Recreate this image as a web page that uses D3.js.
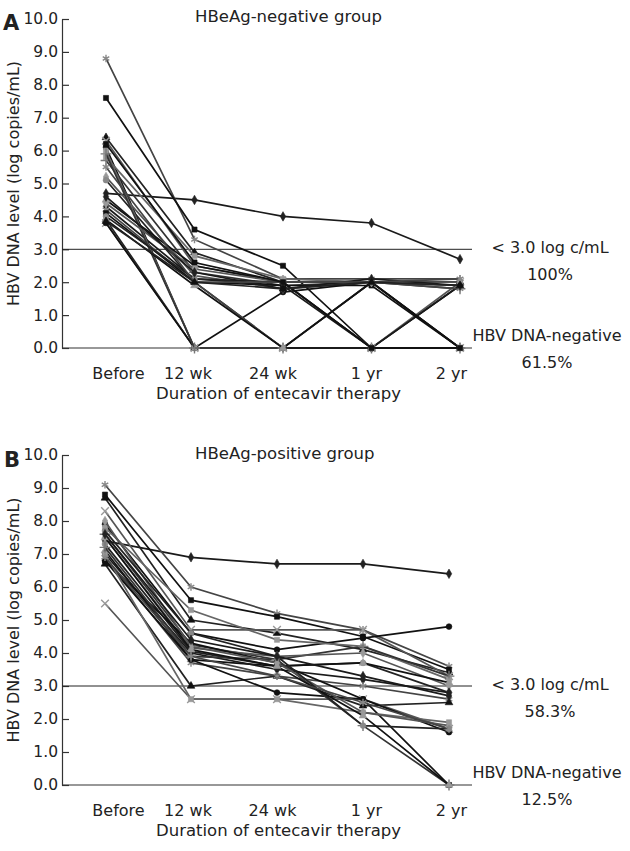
<!DOCTYPE html>
<html>
<head>
<meta charset="utf-8">
<script src="https://cdn.jsdelivr.net/npm/d3@7"></script>
<style>
  body { margin: 0; background: #fff; }
  svg { display: block; }
  text { font-family: "DejaVu Sans", Verdana, sans-serif; fill: #222; }
</style>
</head>
<body>
<svg id="chart" width="630" height="851"></svg>
<script>
// time points
const categories = ["Before", "12 wk", "24 wk", "1 yr", "2 yr"];
const yTicks = [0, 1, 2, 3, 4, 5, 6, 7, 8, 9, 10];
const threshold = 3.0;

// HBeAg-negative group, one row per patient (log copies/mL)
const negSeries = [
  [4.7, 4.5, 4.0, 3.8, 2.7],
  [8.8, 3.3, 2.1, 2.1, 2.1],
  [7.6, 3.6, 2.5, 0, 1.9],
  [6.4, 2.9, 2.0, 2.0, 2.0],
  [6.3, 2.5, 2.0, 0, 2.0],
  [6.1, 0, 1.7, 2.0, 1.9],
  [5.8, 2.8, 2.1, 2.0, 0],
  [5.7, 2.3, 1.9, 2.0, 1.8],
  [5.2, 2.2, 1.8, 2.0, 1.9],
  [5.1, 2.0, 0, 2.0, 2.0],
  [4.5, 2.5, 2.0, 2.0, 0],
  [4.3, 2.1, 1.9, 0, 1.9],
  [4.2, 2.0, 0, 2.0, 1.8],
  [4.1, 2.0, 1.9, 1.9, 0],
  [3.9, 0, 0, 0, 0],
  [3.8, 0, 0, 0, 0],
  [3.8, 0, 0, 2.0, 0],
  [6.0, 0, 0, 0, 0],
  [5.9, 0, 0, 0, 0],
  [4.4, 2.4, 2.0, 2.0, 2.0],
  [4.0, 2.1, 2.0, 0, 0],
  [3.9, 1.9, 0, 0, 0],
  [4.6, 2.3, 1.8, 2.1, 1.9],
  [5.5, 2.0, 2.0, 2.0, 2.1],
  [6.2, 2.6, 2.0, 0, 0],
  [3.85, 2.0, 1.8, 2.0, 1.9]
];

// HBeAg-positive group
const posSeries = [
  [7.4, 6.9, 6.7, 6.7, 6.4],
  [9.1, 6.0, 5.2, 4.7, 3.6],
  [8.8, 5.6, 5.1, 4.5, 3.5],
  [8.7, 5.0, 4.6, 4.1, 3.4],
  [8.3, 4.7, 4.7, 4.7, 3.3],
  [7.9, 4.6, 4.1, 4.45, 4.8],
  [7.8, 5.3, 4.4, 4.2, 3.2],
  [7.6, 4.25, 3.8, 4.2, 3.3],
  [7.5, 4.15, 3.9, 4.0, 3.0],
  [7.3, 4.05, 3.6, 3.7, 2.8],
  [7.1, 3.8, 3.6, 3.7, 3.1],
  [7.0, 4.0, 3.5, 3.2, 2.8],
  [6.9, 3.7, 3.3, 3.0, 2.6],
  [6.8, 4.3, 3.7, 2.6, 0],
  [6.7, 3.0, 3.3, 2.4, 2.5],
  [5.5, 2.6, 2.6, 2.6, 1.7],
  [6.8, 3.8, 2.8, 2.6, 1.6],
  [7.0, 2.6, 2.6, 2.2, 1.9],
  [7.2, 3.9, 3.8, 1.8, 0],
  [8.0, 4.2, 3.7, 2.2, 1.8],
  [7.7, 4.6, 3.9, 1.8, 1.7],
  [7.5, 4.1, 3.6, 2.1, 0],
  [7.6, 4.4, 3.9, 3.3, 2.7],
  [6.9, 3.9, 3.3, 2.5, 1.7]
];

// marker / line styles cycled over patients (Excel-like)
const sym = (name, fallback) => d3[name] || fallback;
const markerStyles = [
  { type: d3.symbolDiamond, fill: "#222", line: "#1a1a1a" },
  { type: sym("symbolAsterisk", d3.symbolCross), fill: "#888", line: "#444", stroke: true },
  { type: d3.symbolSquare, fill: "#111", line: "#111" },
  { type: d3.symbolTriangle, fill: "#111", line: "#222" },
  { type: sym("symbolX", d3.symbolCross), fill: "#999", line: "#555", stroke: true },
  { type: d3.symbolCircle, fill: "#111", line: "#111" },
  { type: d3.symbolSquare, fill: "#999", line: "#666" },
  { type: sym("symbolPlus", d3.symbolCross), fill: "#777", line: "#333", stroke: true },
  { type: d3.symbolDiamond, fill: "#999", line: "#555" },
  { type: d3.symbolCircle, fill: "#888", line: "#222" },
  { type: d3.symbolTriangle, fill: "#999", line: "#111" }
];

const svg = d3.select("#chart");

function drawPanel(cfg) {
  const g = svg.append("g");
  const x = d3.scalePoint().domain(categories).range(cfg.xRange);
  const y = d3.scaleLinear().domain([0, 10]).range(cfg.yRange);

  // y axis, ticks point inwards
  const yAxis = g.append("g")
    .attr("transform", `translate(${cfg.axisX},0)`)
    .call(d3.axisLeft(y).tickValues(yTicks).tickFormat(d3.format(".1f"))
      .tickSizeInner(-7).tickSizeOuter(0).tickPadding(4));
  yAxis.select(".domain").attr("stroke", "#333").attr("stroke-width", 1.2);
  yAxis.selectAll(".tick line").attr("stroke", "#333").attr("stroke-width", 1.2);
  yAxis.selectAll(".tick text")
    .style("font-size", "15.5px").attr("fill", "#222")
    .style("font-family", "'DejaVu Sans', Verdana, sans-serif");

  // x axis (baseline) and threshold line
  g.append("line")
    .attr("x1", cfg.axisX).attr("x2", cfg.axisRight)
    .attr("y1", y(0)).attr("y2", y(0))
    .attr("stroke", "#333").attr("stroke-width", 1.2);
  g.append("line")
    .attr("x1", cfg.axisX).attr("x2", cfg.axisRight)
    .attr("y1", y(threshold)).attr("y2", y(threshold))
    .attr("stroke", "#222").attr("stroke-width", 1);

  // category labels
  const xAxis = g.append("g")
    .attr("transform", `translate(0,${y(0)})`)
    .call(d3.axisBottom(x).tickSize(0).tickPadding(20));
  xAxis.select(".domain").remove();
  xAxis.selectAll(".tick text")
    .attr("dx", (d, i) => cfg.labelX[i] - x(d))
    .style("font-size", "16px").attr("fill", "#222")
    .style("font-family", "'DejaVu Sans', Verdana, sans-serif");

  // patient lines
  const line = d3.line().x((d, i) => x(categories[i])).y(d => y(d));
  const series = g.selectAll(".patient")
    .data(cfg.data)
    .enter().append("g")
    .attr("class", "patient");

  series.append("path")
    .attr("d", d => line(d))
    .attr("fill", "none")
    .attr("stroke", (d, i) => markerStyles[i % markerStyles.length].line)
    .attr("stroke-width", 1.7);

  series.each(function (d, i) {
    const st = markerStyles[i % markerStyles.length];
    d3.select(this).selectAll("path.mk")
      .data(d)
      .enter().append("path")
      .attr("class", "mk")
      .attr("transform", (v, j) => `translate(${x(categories[j])},${y(v)})`)
      .attr("d", d3.symbol().type(st.type).size(st.stroke ? 40 : 26))
      .attr("fill", st.stroke ? "none" : st.fill)
      .attr("stroke", st.fill)
      .attr("stroke-width", st.stroke ? 1.4 : 0.6);
  });

  // texts
  g.append("text")
    .attr("x", cfg.letterX).attr("y", cfg.letterY)
    .style("font-size", "21px").style("font-weight", "bold")
    .attr("fill", "#111")
    .text(cfg.letter);

  g.append("text")
    .attr("x", 195).attr("y", cfg.titleY)
    .style("font-size", "16.5px")
    .text(cfg.title);

  const mid = (cfg.yRange[0] + cfg.yRange[1]) / 2;
  g.append("text")
    .attr("transform", `translate(19,${mid}) rotate(-90)`)
    .attr("text-anchor", "middle")
    .style("font-size", "16px")
    .text("HBV DNA level (log copies/mL)");

  g.append("text")
    .attr("x", 278.5).attr("y", cfg.xTitleY)
    .attr("text-anchor", "middle")
    .style("font-size", "16.5px")
    .text("Duration of entecavir therapy");

  const notes = [
    { t: "< 3.0 log c/mL", x: 550, y: y(threshold) + 4 },
    { t: cfg.belowPct, x: 550, y: y(threshold) + 31 },
    { t: "HBV DNA-negative", x: 547, y: y(0) - 7 },
    { t: cfg.negPct, x: 547, y: y(0) + 19.5 }
  ];
  g.selectAll(".note")
    .data(notes)
    .enter().append("text")
    .attr("class", "note")
    .attr("x", d => d.x).attr("y", d => d.y)
    .attr("text-anchor", "middle")
    .style("font-size", "16px")
    .text(d => d.t);
}

drawPanel({
  data: negSeries,
  xRange: [106, 460],
  yRange: [348, 19],
  axisX: 62, axisRight: 472,
  labelX: [118, 187.5, 272.5, 366, 451],
  letter: "A", letterX: 3, letterY: 30,
  title: "HBeAg-negative group", titleY: 22,
  xTitleY: 399,
  belowPct: "100%", negPct: "61.5%"
});

drawPanel({
  data: posSeries,
  xRange: [105, 449],
  yRange: [785, 455],
  axisX: 62, axisRight: 472,
  labelX: [118, 187.5, 272, 366, 451],
  letter: "B", letterX: 4, letterY: 467,
  title: "HBeAg-positive group", titleY: 459,
  xTitleY: 836,
  belowPct: "58.3%", negPct: "12.5%"
});
</script>
</body>
</html>
